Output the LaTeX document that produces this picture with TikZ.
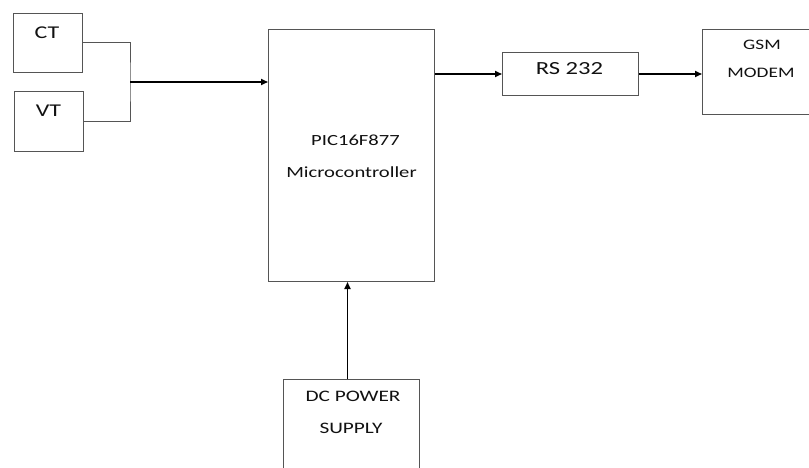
\documentclass[tikz,border=0pt]{standalone}
\usepackage{fontspec}
\setmainfont{Carlito}
\usetikzlibrary{arrows.meta,calc}
\definecolor{boxgray}{HTML}{555555}
\definecolor{txt}{HTML}{111111}
\newcommand{\widetxt}[1]{\scalebox{1.33}[1]{#1}}
\begin{document}
\begin{tikzpicture}[x=1pt,y=-1pt,
  box/.style={draw=boxgray, line width=1pt, inner sep=0pt, anchor=north west},
  wire/.style={draw=boxgray, line width=1pt},
  arr/.style={draw=black, line width=1.6pt, -{Triangle[length=7pt,width=6pt]}},
  lbl/.style={text=txt, inner sep=0pt, anchor=base}]
\useasboundingbox (0,0) rectangle (809,468);
\clip (0,0) rectangle (809,468);
\fill[white] (0,0) rectangle (809,468);
% boxes
\node[box, minimum width=69pt, minimum height=59pt] (ct) at (13,13) {};
\node[box, minimum width=69pt, minimum height=60pt] (vt) at (14,91) {};
\node[box, minimum width=166pt, minimum height=252pt] (pic) at (268,29) {};
\node[box, minimum width=136pt, minimum height=43pt] (rs) at (502,52) {};
\node[box, minimum width=115pt, minimum height=85pt] (gsm) at (702,29) {};
\node[box, minimum width=136pt, minimum height=100pt] (dc) at (283,379) {};
% labels
\node[lbl, font=\fontsize{18}{22}\selectfont] (ctl) at (47,39) {\widetxt{CT}};
\node[lbl, font=\fontsize{18}{22}\selectfont] (vtl) at (48.5,117) {\widetxt{VT}};
\node[lbl, font=\fontsize{15.5}{18}\selectfont] (picl1) at (355.5,146) {\widetxt{PIC16F877}};
\node[lbl, font=\fontsize{15.5}{18}\selectfont] (picl2) at (351.5,178) {\widetxt{Microcontroller}};
\node[lbl, font=\fontsize{18.5}{22}\selectfont] (rsl) at (569.5,75) {\widetxt{RS 232}};
\node[lbl, font=\fontsize{14.5}{17}\selectfont] (gsml1) at (762,49.5) {\widetxt{GSM}};
\node[lbl, font=\fontsize{14.5}{17}\selectfont] (gsml2) at (761,77.5) {\widetxt{MODEM}};
\node[lbl, font=\fontsize{16}{19}\selectfont] (dcl1) at (353,401) {\widetxt{DC POWER}};
\node[lbl, font=\fontsize{16}{19}\selectfont] (dcl2) at (351,433) {\widetxt{SUPPLY}};
% connectors
\coordinate (j) at (130,82);
\draw[wire] (ct.east) -| (j) |- (vt.east);
\draw[arr] (j) -- (j -| pic.west);
\draw[arr] (rs.west -| pic.east) -- (rs.west);
\draw[arr] (rs.east) -- (rs.east -| gsm.west);
\coordinate (dcn) at ([xshift=-4pt]dc.north);
\draw[arr] (dcn) -- (dcn |- pic.south);
\end{tikzpicture}
\end{document}
